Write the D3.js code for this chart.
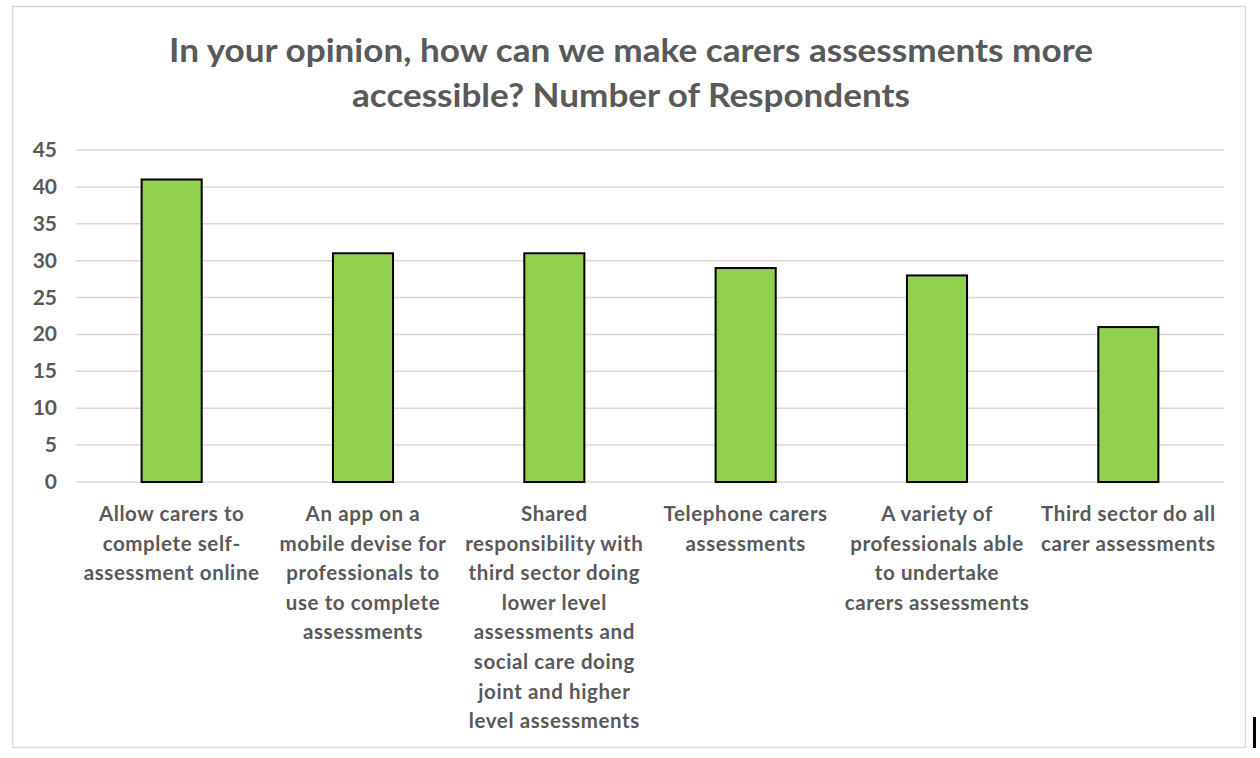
<!DOCTYPE html>
<html><head><meta charset="utf-8">
<script src="https://cdn.jsdelivr.net/npm/d3@7"></script>
<style>body{margin:0;background:#fff}svg{display:block}</style>
</head><body>
<svg id="c" width="1260" height="758"></svg>
<script>
const titleLines = ["In your opinion, how can we make carers assessments more", "accessible? Number of Respondents"];
const categories = [
  "Allow carers to|complete self-|assessment online",
  "An app on a|mobile devise for|professionals to|use to complete|assessments",
  "Shared|responsibility with|third sector doing|lower level|assessments and|social care doing|joint and higher|level assessments",
  "Telephone carers|assessments",
  "A variety of|professionals able|to undertake|carers assessments",
  "Third sector do all|carer assessments"
];
const values = [41, 31, 31, 29, 28, 21];
const yTicks = [0, 5, 10, 15, 20, 25, 30, 35, 40, 45];

const svg = d3.select("#c");
const font = "Lato, 'Open Sans', 'DejaVu Sans', sans-serif";
const textCol = "#595959";

svg.append("rect").attr("x", 12.5).attr("y", 6.5).attr("width", 1233).attr("height", 741)
  .attr("fill", "#fff").attr("stroke", "#d9d9d9").attr("stroke-width", 1.5);

const titleW = [924, 558];
titleLines.forEach((t, i) => {
  svg.append("text").attr("x", 631).attr("y", 62 + i * 45)
    .attr("text-anchor", "middle").attr("font-family", font).attr("font-weight", 700)
    .attr("font-size", 32).attr("fill", textCol)
    .attr("textLength", titleW[i]).attr("lengthAdjust", "spacingAndGlyphs").text(t);
});

const x = d3.scaleBand().domain(d3.range(categories.length)).range([76, 1224]).paddingInner(0.686).paddingOuter(0.343);
const y = d3.scaleLinear().domain([0, 45]).range([482, 150]);

const g = svg.append("g");
g.selectAll("line.grid").data(yTicks).join("line").attr("class", "grid")
  .attr("x1", 76).attr("x2", 1224).attr("y1", d => y(d)).attr("y2", d => y(d))
  .attr("stroke", "#d9d9d9").attr("stroke-width", 1.5);

g.selectAll("text.yt").data(yTicks).join("text").attr("class", "yt")
  .attr("x", 57).attr("y", d => y(d) + 7).attr("text-anchor", "end")
  .attr("font-family", font).attr("font-weight", 700).attr("font-size", 21).attr("fill", textCol)
  .text(d => d);

g.selectAll("rect.bar").data(values).join("rect").attr("class", "bar")
  .attr("x", (d, i) => x(i)).attr("width", x.bandwidth())
  .attr("y", d => y(d)).attr("height", d => y(0) - y(d))
  .attr("fill", "#92d050").attr("stroke", "#000").attr("stroke-width", 2);

categories.forEach((c, i) => {
  const cx = x(i) + x.bandwidth() / 2;
  const t = g.append("text").attr("text-anchor", "middle").attr("font-family", font)
    .attr("font-weight", 700).attr("font-size", 20.5).attr("letter-spacing", 0.6).attr("fill", textCol);
  c.split("|").forEach((ln, j) => {
    t.append("tspan").attr("x", cx).attr("y", 521 + j * 29.6).text(ln);
  });
});

// stray cursor mark at right edge
svg.append("rect").attr("x", 1253).attr("y", 717).attr("width", 3).attr("height", 31).attr("fill", "#000");
</script>
</body></html>
